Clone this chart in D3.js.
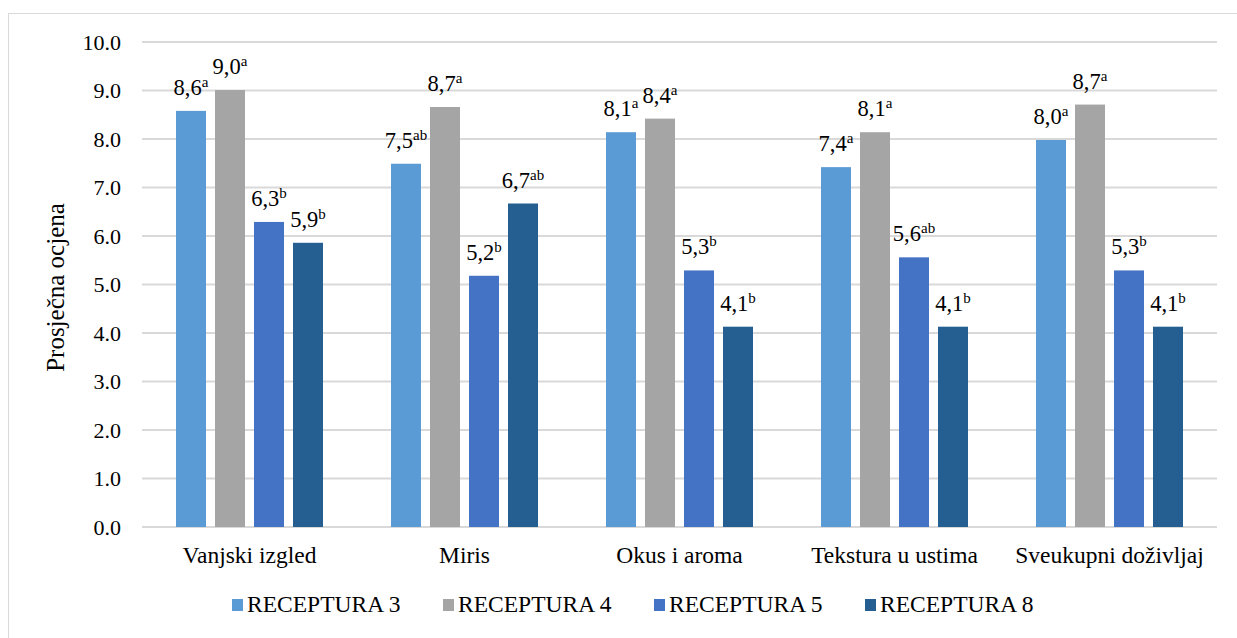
<!DOCTYPE html>
<html>
<head>
<meta charset="utf-8">
<script src="https://cdn.jsdelivr.net/npm/d3@7"></script>
<style>
    body { margin: 0; background: #fff; }
</style>
</head>
<body>
<svg id="drawing_region"></svg>
<script>
// chart data
const categories = ['Vanjski izgled', 'Miris', 'Okus i aroma', 'Tekstura u ustima', 'Sveukupni doživljaj'];
const series = ['RECEPTURA 3', 'RECEPTURA 4', 'RECEPTURA 5', 'RECEPTURA 8'];
const values = [
    [8.58, 9.01, 6.29, 5.86],
    [7.49, 8.66, 5.18, 6.67],
    [8.14, 8.42, 5.29, 4.13],
    [7.42, 8.14, 5.56, 4.13],
    [7.98, 8.71, 5.29, 4.13],
];
const letters = [
    ['a', 'a', 'b', 'b'],
    ['ab', 'a', 'b', 'ab'],
    ['a', 'a', 'b', 'b'],
    ['a', 'a', 'ab', 'b'],
    ['a', 'a', 'b', 'b'],
];
const yTicks = [0, 1, 2, 3, 4, 5, 6, 7, 8, 9, 10];
const colors = ['#5b9bd5', '#a5a5a5', '#4472c4', '#255e91'];

const W = 1237, H = 638;
const margin = { left: 142, right: 20, top: 42, bottom: 111 };
const FONT = '"Liberation Serif", "Times New Roman", serif';

const svg = d3.select('#drawing_region')
    .attr('width', W)
    .attr('height', H);

// outer frame
svg.append('rect')
    .attr('x', 8.5).attr('y', 13.5)
    .attr('width', W).attr('height', H)
    .attr('fill', 'none')
    .attr('stroke', '#d9d9d9');

const xscale = d3.scaleBand()
    .domain(categories)
    .range([margin.left, W - margin.right]);

const yscale = d3.scaleLinear()
    .domain([0, 10])
    .range([H - margin.bottom, margin.top]);

const inner = d3.scaleBand()
    .domain(d3.range(series.length))
    .range([0, 4 * 39 - 9])
    .paddingInner(9 / 39);

// grid lines
svg.append('g')
    .selectAll('line')
    .data(yTicks)
    .join('line')
    .attr('x1', margin.left)
    .attr('x2', W - margin.right)
    .attr('y1', d => yscale(d))
    .attr('y2', d => yscale(d))
    .attr('stroke', '#d9d9d9')
    .attr('stroke-width', 2);

// y axis
const yAxis = svg.append('g')
    .attr('transform', `translate(${margin.left}, 0)`)
    .call(d3.axisLeft(yscale).tickValues(yTicks).tickFormat(d3.format('.1f')).tickSize(0).tickPadding(21));
yAxis.select('.domain').remove();
yAxis.selectAll('text')
    .style('font-family', FONT)
    .style('font-size', '22px')
    .attr('fill', '#000');

// x axis labels
const xAxis = svg.append('g')
    .attr('transform', `translate(0, ${yscale(0)})`)
    .call(d3.axisBottom(xscale).tickSize(0).tickPadding(19));
xAxis.select('.domain').remove();
xAxis.selectAll('text')
    .style('font-family', FONT)
    .style('font-size', '23.5px')
    .attr('fill', '#000');

// bars
const groupW = 4 * 39 - 9;
const groups = svg.append('g')
    .selectAll('.group')
    .data(categories)
    .join('g')
    .attr('class', 'group')
    .attr('transform', d => `translate(${xscale(d) + (xscale.bandwidth() - groupW) / 2}, 0)`);

groups.selectAll('rect')
    .data((d, i) => values[i].map((v, j) => ({ v, j, i })))
    .join('rect')
    .attr('x', d => inner(d.j))
    .attr('y', d => yscale(d.v))
    .attr('width', inner.bandwidth())
    .attr('height', d => yscale(0) - yscale(d.v))
    .attr('fill', d => colors[d.j]);

// value labels with superscript letters
const fmt = d3.format('.1f');
const labels = groups.selectAll('text.lbl')
    .data((d, i) => values[i].map((v, j) => ({ v, j, i })))
    .join('text')
    .attr('class', 'lbl')
    .attr('x', d => inner(d.j) + inner.bandwidth() / 2)
    .attr('y', d => yscale(d.v) - 16)
    .attr('text-anchor', 'middle')
    .style('font-family', FONT)
    .style('font-size', '22.5px')
    .attr('fill', '#000');
labels.append('tspan')
    .text(d => fmt(d.v).replace('.', ','));
labels.append('tspan')
    .style('font-size', '15px')
    .attr('dy', -8)
    .text(d => letters[d.i][d.j]);

// y axis title
svg.append('text')
    .attr('transform', `translate(64, ${(yscale(0) + yscale(10)) / 2 + 3}) rotate(-90)`)
    .attr('text-anchor', 'middle')
    .style('font-family', FONT)
    .style('font-size', '25px')
    .text('Prosječna ocjena');

// legend
const legend = svg.append('g')
    .selectAll('g')
    .data(series)
    .join('g')
    .attr('transform', (d, i) => `translate(${232 + i * 211}, 612)`);
legend.append('rect')
    .attr('x', 0).attr('y', -13)
    .attr('width', 11).attr('height', 12)
    .attr('fill', (d, i) => colors[i]);
legend.append('text')
    .attr('x', 15)
    .attr('y', 0)
    .style('font-family', FONT)
    .style('font-size', '23.5px')
    .text(d => d);
</script>
</body>
</html>
